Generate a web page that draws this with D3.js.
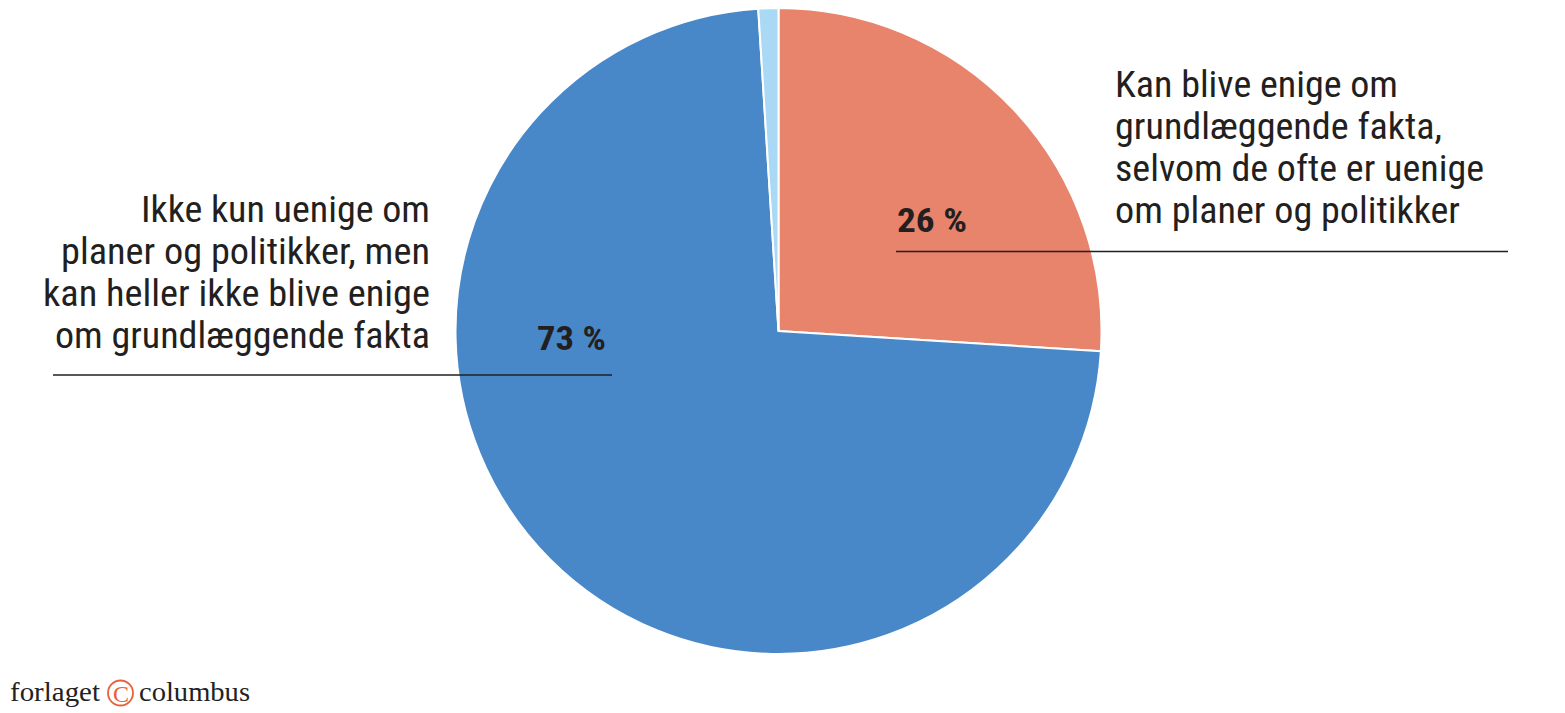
<!DOCTYPE html>
<html><head><meta charset="utf-8">
<script src="https://cdn.jsdelivr.net/npm/d3@7"></script>
<style>body{margin:0;background:#fff}svg{display:block}</style>
</head><body>
<script>
const categories = ["Kan blive enige om grundlæggende fakta", "Ikke kun uenige om fakta", "Ved ikke"];
const values = [26, 73, 1];
const valueLabels = ["26 %", "73 %", ""];
const colors = ["#e8836c", "#4888c8", "#a9d9f4"];
const rightLines = ["Kan blive enige om", "grundlæggende fakta,", "selvom de ofte er uenige", "om planer og politikker"];
const leftLines = ["Ikke kun uenige om", "planer og politikker, men", "kan heller ikke blive enige", "om grundlæggende fakta"];

const W = 1565, H = 713;
const svg = d3.select("body").append("svg").attr("width", W).attr("height", H);
const cx = 778.5, cy = 331, R = 323;

const pie = d3.pie().sort(null).value(d => d)(values);
const arc = d3.arc().innerRadius(0).outerRadius(R);
svg.append("g").attr("transform", `translate(${cx},${cy})`)
  .selectAll("path").data(pie).join("path")
  .attr("d", arc).attr("fill", (d, i) => colors[i])
  .attr("stroke", "#fff").attr("stroke-width", 2);

const font = "'Roboto Condensed', Roboto, sans-serif";
const rightWidths = [283, 327, 369, 345];
rightLines.forEach((t, i) => {
  svg.append("text").attr("x", 1115).attr("y", 97 + i * 42)
    .attr("font-family", font).attr("font-size", 36).attr("fill", "#231f20")
    .attr("textLength", rightWidths[i]).attr("lengthAdjust", "spacingAndGlyphs").text(t);
});
const leftWidths = [289, 369, 387, 375];
leftLines.forEach((t, i) => {
  svg.append("text").attr("x", 430 - leftWidths[i]).attr("y", 222 + i * 42)
    .attr("font-family", font).attr("font-size", 36).attr("fill", "#231f20")
    .attr("textLength", leftWidths[i]).attr("lengthAdjust", "spacingAndGlyphs").text(t);
});

svg.append("text").attr("x", 897).attr("y", 232).attr("font-family", font).attr("font-weight", "bold")
  .attr("font-size", 33).attr("fill", "#231f20").attr("textLength", 70).attr("lengthAdjust", "spacingAndGlyphs").text(valueLabels[0]);
svg.append("text").attr("x", 537).attr("y", 350).attr("font-family", font).attr("font-weight", "bold")
  .attr("font-size", 33).attr("fill", "#231f20").attr("textLength", 69).attr("lengthAdjust", "spacingAndGlyphs").text(valueLabels[1]);

svg.append("line").attr("x1", 896).attr("x2", 1508).attr("y1", 251.5).attr("y2", 251.5).attr("stroke", "#231f20").attr("stroke-width", 1.5);
svg.append("line").attr("x1", 53).attr("x2", 612).attr("y1", 375).attr("y2", 375).attr("stroke", "#231f20").attr("stroke-width", 1.5);

const lg = svg.append("g");
lg.append("text").attr("x", 10).attr("y", 701).attr("font-family", "'Liberation Serif', serif")
  .attr("font-size", 27).attr("fill", "#222").attr("textLength", 90).attr("lengthAdjust", "spacingAndGlyphs").text("forlaget");
lg.append("circle").attr("cx", 120.5).attr("cy", 693).attr("r", 12.5).attr("fill", "none").attr("stroke", "#e8603c").attr("stroke-width", 1.8);
lg.append("text").attr("x", 121).attr("y", 701.5).attr("text-anchor", "middle").attr("font-family", "'Liberation Serif', serif")
  .attr("font-size", 24).attr("fill", "#e8603c").text("C");
lg.append("text").attr("x", 139).attr("y", 701).attr("font-family", "'Liberation Serif', serif")
  .attr("font-size", 27).attr("fill", "#222").attr("textLength", 111).attr("lengthAdjust", "spacingAndGlyphs").text("columbus");
</script>
</body></html>
